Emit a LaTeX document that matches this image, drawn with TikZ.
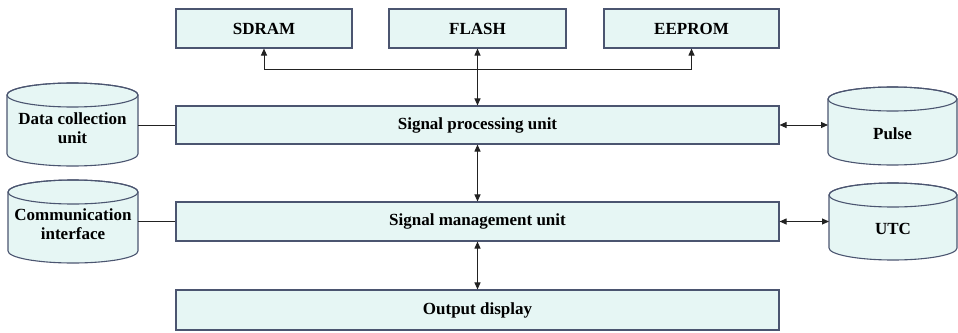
\documentclass[tikz,border=0pt]{standalone}
\usepackage{fontspec}
\setmainfont{Liberation Serif}
\usetikzlibrary{arrows.meta}
\definecolor{boxfill}{HTML}{E6F6F4}
\definecolor{boxline}{HTML}{4B5570}
\definecolor{conn}{HTML}{222222}
\tikzset{
  x=1pt,y=1pt,
  blk/.style={draw=boxline,fill=boxfill,line width=1.1pt,inner sep=0pt,
    font=\fontsize{17}{19}\selectfont\bfseries},
  txt/.style={inner sep=0pt,align=center,font=\fontsize{17}{19}\selectfont\bfseries},
  cylpath/.style={draw=boxline,fill=boxfill,line width=1.1pt},
  link/.style={draw=conn,line width=1pt},
  arr/.style={link,{Triangle[length=7pt,width=6pt]}-{Triangle[length=7pt,width=6pt]}},
}
% cylinder: #1 name, #2 left, #3 right, #4 top, #5 bottom (all in pt, y negative)
\newcommand{\mycyl}[5]{%
  \path[cylpath] (#2,#4-12) -- (#2,#5+12)
     arc[start angle=180,end angle=360,x radius={(#3-#2)/2},y radius=12]
     -- (#3,#4-12)
     arc[start angle=0,end angle=180,x radius={(#3-#2)/2},y radius=12] -- cycle;
  \draw[boxline,line width=1.1pt] ({(#2+#3)/2},#4-12) ellipse[x radius={(#3-#2)/2},y radius=12];
  \coordinate (#1-w) at (#2,{(#4+#5)/2});
  \coordinate (#1-e) at (#3,{(#4+#5)/2});
}
\begin{document}
\begin{tikzpicture}
\useasboundingbox (0,0) rectangle (958,-332);
% memory boxes
\node[blk,minimum width=176,minimum height=39] (sdram) at (264,-28.5) {SDRAM};
\node[blk,minimum width=177,minimum height=39] (flash) at (477.5,-28.5) {FLASH};
\node[blk,minimum width=175,minimum height=39] (eeprom) at (691.5,-28.5) {EEPROM};
% main units
\node[blk,minimum width=603,minimum height=38] (spu) at (477.5,-125) {Signal processing unit};
\node[blk,minimum width=603,minimum height=39] (smu) at (477.5,-221.5) {Signal management unit};
\node[blk,minimum width=603,minimum height=40] (out) at (477.5,-310) {Output display};
% cylinders
\mycyl{dc}{7}{138}{-83}{-166}
\node[txt] (dct) at (72.5,-128) {Data collection\\unit};
\mycyl{ci}{8}{138}{-180}{-263}
\node[txt] (cit) at (73,-224) {Communication\\interface};
\mycyl{pu}{828}{957}{-87}{-165}
\node[txt] (put) at (892.5,-134) {Pulse};
\mycyl{ut}{829}{957}{-183}{-260}
\node[txt] (utt) at (893,-229) {UTC};
% connectors
\coordinate (bl) at (264,-69);
\coordinate (br) at (691.5,-69);
\draw[arr] (sdram.south) -- (bl) -- (br) -- (eeprom.south);
\draw[arr] (flash.south) -- (spu.north);
\draw[arr] (spu.south) -- (smu.north);
\draw[arr] (smu.south) -- (out.north);
\draw[link] (dc-e |- spu.west) -- (spu.west);
\draw[link] (ci-e |- smu.west) -- (smu.west);
\draw[arr] (spu.east) -- (pu-w |- spu.east);
\draw[arr] (smu.east) -- (ut-w |- smu.east);
\end{tikzpicture}
\end{document}
